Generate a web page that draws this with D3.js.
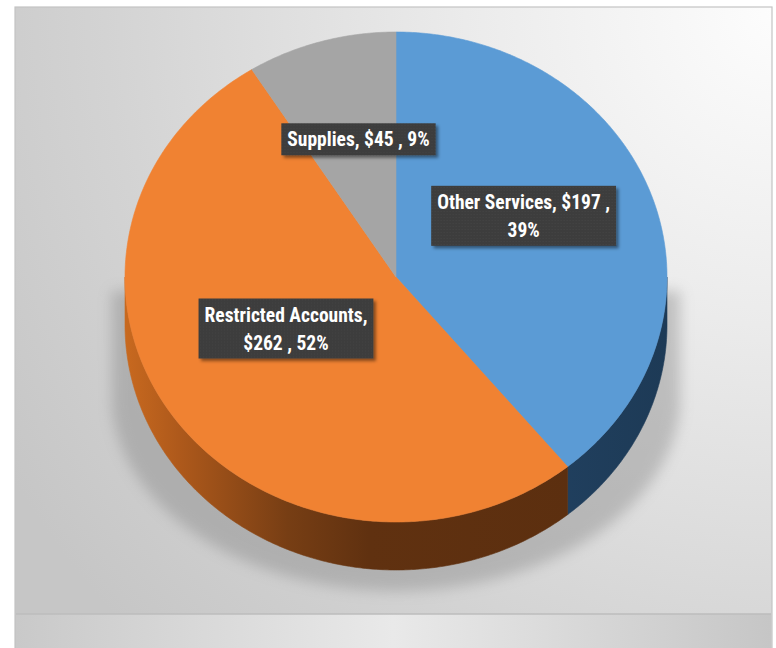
<!DOCTYPE html>
<html>
<head>
<meta charset="utf-8">
<script src="https://cdn.jsdelivr.net/npm/d3@7"></script>
<style>
  html, body { margin: 0; padding: 0; background: #ffffff; }
  svg { display: block; }
</style>
</head>
<body>
<svg id="chart" width="776" height="648"></svg>
<script>
// ---- data ----
const categories = ["Other Services", "Restricted Accounts", "Supplies"];
const amounts = [197, 262, 45];

// ---- styling ----
const topColors = ["#5B9BD5", "#F08232", "#A5A5A5"];
const labelFont = "'Liberation Sans Narrow', 'Roboto Condensed', 'Arial Narrow', 'Liberation Sans', sans-serif";

const W = 776, H = 648;
const svg = d3.select("#chart");
const defs = svg.append("defs");

// panel geometry
const panel = { x: 15, y: 7, w: 757, h: 660 };
const floorTop = 614;

// pie geometry (tilted disc)
const cx = 396, cy = 277, rx = 271, ry = 245, depth = 48;

// ---- gradients & filters ----
const bg = defs.append("radialGradient")
  .attr("id", "panelBg").attr("gradientUnits", "userSpaceOnUse")
  .attr("cx", 780).attr("cy", 10).attr("r", 900);
bg.append("stop").attr("offset", 0).attr("stop-color", "#fdfdfd");
bg.append("stop").attr("offset", 0.35).attr("stop-color", "#ebebeb");
bg.append("stop").attr("offset", 0.75).attr("stop-color", "#d3d3d3");
bg.append("stop").attr("offset", 1).attr("stop-color", "#c6c6c6");

const floorGrad = defs.append("linearGradient").attr("id", "floorBg")
  .attr("x1", 0).attr("x2", 1).attr("y1", 0).attr("y2", 0);
floorGrad.append("stop").attr("offset", 0).attr("stop-color", "#c9c9c9");
floorGrad.append("stop").attr("offset", 0.5).attr("stop-color", "#e9e9e9");
floorGrad.append("stop").attr("offset", 1).attr("stop-color", "#c6c6c6");

// wall shading, lit from the left
const wallOrange = defs.append("linearGradient").attr("id", "wall1")
  .attr("gradientUnits", "userSpaceOnUse")
  .attr("x1", cx - rx).attr("x2", cx + rx).attr("y1", 0).attr("y2", 0);
[[0, "#C8691F"], [0.1, "#AE591B"], [0.3, "#773E14"], [0.45, "#603110"], [1, "#5A2E0F"]]
  .forEach(([o, c]) => wallOrange.append("stop").attr("offset", o).attr("stop-color", c));

const wallBlue = defs.append("linearGradient").attr("id", "wall0")
  .attr("gradientUnits", "userSpaceOnUse")
  .attr("x1", cx - rx).attr("x2", cx + rx).attr("y1", 0).attr("y2", 0);
[[0, "#2C5478"], [0.7, "#224262"], [1, "#1D3A56"]]
  .forEach(([o, c]) => wallBlue.append("stop").attr("offset", o).attr("stop-color", c));

const wallGray = defs.append("linearGradient").attr("id", "wall2")
  .attr("gradientUnits", "userSpaceOnUse")
  .attr("x1", cx - rx).attr("x2", cx + rx).attr("y1", 0).attr("y2", 0);
[[0, "#7A7A7A"], [1, "#555555"]]
  .forEach(([o, c]) => wallGray.append("stop").attr("offset", o).attr("stop-color", c));

defs.append("filter").attr("id", "softShadow")
  .attr("x", -0.2).attr("y", -0.2).attr("width", 1.4).attr("height", 1.4)
  .append("feGaussianBlur").attr("stdDeviation", 7);

const ds = defs.append("filter").attr("id", "labelShadow")
  .attr("x", -0.1).attr("y", -0.2).attr("width", 1.3).attr("height", 1.5);
ds.append("feDropShadow").attr("dx", 2.5).attr("dy", 2.5)
  .attr("stdDeviation", 1.6).attr("flood-color", "#000").attr("flood-opacity", 0.45);

// fine dot texture for label boxes
const pat = defs.append("pattern").attr("id", "dots")
  .attr("patternUnits", "userSpaceOnUse").attr("width", 3).attr("height", 3);
pat.append("rect").attr("width", 3).attr("height", 3).attr("fill", "#3c3c3c");
pat.append("rect").attr("x", 1).attr("y", 1).attr("width", 1).attr("height", 1).attr("fill", "#474747");

// ---- panel background ----
svg.append("rect").attr("x", panel.x).attr("y", panel.y)
  .attr("width", panel.w).attr("height", panel.h)
  .attr("fill", "url(#panelBg)").attr("stroke", "#c4c4c4").attr("stroke-width", 1.2);

svg.append("rect").attr("x", panel.x + 1).attr("y", floorTop)
  .attr("width", panel.w - 2).attr("height", H - floorTop)
  .attr("fill", "url(#floorBg)");
svg.append("line").attr("x1", panel.x + 1).attr("x2", panel.x + panel.w - 1)
  .attr("y1", floorTop).attr("y2", floorTop)
  .attr("stroke", "#bdbdbd").attr("stroke-width", 1.5);

// ---- pie layout ----
const pie = d3.pie().sort(null).value(d => d);
const arcs = pie(amounts);
const total = d3.sum(amounts);

const pt = (a, dy = 0) => [cx + rx * Math.sin(a), cy - ry * Math.cos(a) + dy];
const sample = (a0, a1, dy = 0) => {
  const n = Math.max(2, Math.ceil(Math.abs(a1 - a0) / 0.01));
  return d3.range(n + 1).map(i => pt(a0 + (a1 - a0) * i / n, dy));
};
const line = d3.line();

// soft shadow cast around the disc
const shadowPts = []
  .concat([[cx - rx - 14, cy + 14]])
  .concat(sample(-Math.PI / 2, -Math.PI * 1.5, 0).map(([x, y]) =>
    [cx + (x - cx) * 1.05, y < cy + 14 ? cy + 14 : cy + 118 + (y - cy) * 0.8]))
  .concat([[cx + rx + 14, cy + 14]]);
svg.append("path")
  .attr("d", line(shadowPts) + "Z")
  .attr("fill", "#7d7d7d").attr("opacity", 0.38)
  .attr("filter", "url(#softShadow)");

// front walls: only the part of each slice facing the viewer
const walls = svg.append("g");
arcs.forEach((s, i) => {
  const a0 = Math.max(s.startAngle, Math.PI / 2);
  const a1 = Math.min(s.endAngle, Math.PI * 1.5);
  if (a1 <= a0) return;
  const pts = sample(a0, a1, 0).concat(sample(a1, a0, depth));
  walls.append("path").attr("d", line(pts) + "Z")
    .attr("fill", `url(#wall${i})`)
    .attr("stroke", `url(#wall${i})`).attr("stroke-width", 0.6);
});

// top faces
svg.append("g").selectAll("path").data(arcs).join("path")
  .attr("d", s => line([[cx, cy]].concat(sample(s.startAngle, s.endAngle))) + "Z")
  .attr("fill", (s, i) => topColors[i])
  .attr("stroke", (s, i) => topColors[i]).attr("stroke-width", 0.6);

// ---- data labels ----
const fmtPct = v => Math.round(v / total * 100) + "%";
const lineHeight = 28, fontSize = 19.5, maxWrap = 178;

const labels = svg.append("g")
  .attr("font-family", labelFont).attr("font-weight", "bold")
  .attr("font-size", fontSize).attr("fill", "#ffffff");

arcs.forEach((s, i) => {
  const text = `${categories[i]}, $${amounts[i]} , ${fmtPct(amounts[i])}`;
  const mid = (s.startAngle + s.endAngle) / 2;
  const lx = cx + 0.5 * rx * Math.sin(mid);
  const ly = cy - 20 - 0.5 * ry * Math.cos(mid);

  const g = labels.append("g").attr("transform", `translate(${lx},${ly})`);
  const box = g.append("rect").attr("fill", "url(#dots)").attr("filter", "url(#labelShadow)");

  // greedy word wrap
  const probe = g.append("text").attr("text-anchor", "middle");
  const words = text.split(" ");
  const lines = [];
  let cur = "";
  words.forEach(w => {
    const test = cur ? cur + " " + w : w;
    probe.text(test);
    if (cur && probe.node().getComputedTextLength() > maxWrap) {
      lines.push(cur); cur = w;
    } else cur = test;
  });
  lines.push(cur);
  probe.remove();

  let maxW = 0;
  lines.forEach((ln, k) => {
    const t = g.append("text").attr("text-anchor", "middle")
      .attr("x", 0).attr("y", (k - (lines.length - 1) / 2) * lineHeight + 7)
      .text(ln);
    maxW = Math.max(maxW, t.node().getComputedTextLength());
  });
  const bw = maxW + 12, bh = lines.length * lineHeight + 4;
  box.attr("x", -bw / 2).attr("y", -bh / 2).attr("width", bw).attr("height", bh);
});
</script>
</body>
</html>
